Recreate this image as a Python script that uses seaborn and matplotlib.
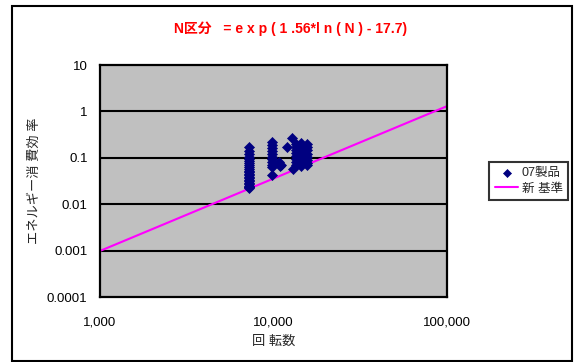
import numpy as np
import pandas as pd
import matplotlib
matplotlib.use("Agg")
import matplotlib.pyplot as plt
from matplotlib.patches import Rectangle
from matplotlib.ticker import FixedLocator, NullLocator
import seaborn as sns

# 07 products: rotation count and energy consumption efficiency
rpm_a = [7200] * 24
eff_a = [0.17, 0.14, 0.12, 0.105, 0.095, 0.085, 0.077, 0.07, 0.064, 0.058,
         0.053, 0.049, 0.045, 0.042, 0.039, 0.036, 0.033, 0.031, 0.029,
         0.027, 0.025, 0.024, 0.023, 0.022]
rpm_b = [9800] * 11
eff_b = [0.22, 0.19, 0.16, 0.14, 0.12, 0.105, 0.092, 0.08, 0.07, 0.062, 0.043]
rpm_c = [10700, 10900, 11100, 11900, 12700, 13000]
eff_c = [0.082, 0.065, 0.07, 0.173, 0.27, 0.058]
rpm_d = [13500] * 8 + [14500] * 9 + [15500] * 8
eff_d = [0.20, 0.17, 0.145, 0.125, 0.108, 0.093, 0.08, 0.07] \
    + [0.21, 0.18, 0.155, 0.13, 0.112, 0.097, 0.085, 0.074, 0.065] \
    + [0.20, 0.17, 0.145, 0.122, 0.105, 0.09, 0.078, 0.07]

rpm = rpm_a + rpm_b + rpm_c + rpm_d
efficiency = eff_a + eff_b + eff_c + eff_d

# New standard: exp(1.56*ln(N) - 17.7)
std_slope = 1.56
std_intercept = -17.7
std_rpm = [1000, 100000]

x_ticks = [1000, 10000, 100000]
x_ticklabels = ["1,000", "10,000", "100,000"]
y_ticks = [0.0001, 0.001, 0.01, 0.1, 1, 10]
y_ticklabels = ["0.0001", "0.001", "0.01", "0.1", "1", "10"]

title_text = "N区分   = e x p ( 1 .56*l n ( N ) - 17.7)"
x_label = "回 転数"
y_label = "エネルギー消 費効 率"
series_label = "07製品"
std_label = "新 基準"

sns.set_style("white")
plt.rcParams["font.family"] = ["Liberation Sans", "Noto Sans CJK JP", "DejaVu Sans"]

points = pd.DataFrame({"rpm": rpm, "eff": efficiency})
std_df = pd.DataFrame({"rpm": std_rpm})
std_df["eff"] = np.exp(std_slope * np.log(std_df["rpm"]) + std_intercept)

fig = plt.figure(figsize=(5.74, 3.62), dpi=100)
ax = fig.add_axes([100 / 574, 1 - 297 / 362, 347 / 574, 232 / 362])
ax.set_facecolor("#C0C0C0")

ax.set_xscale("log")
ax.set_yscale("log")
ax.set_xlim(1000, 100000)
ax.set_ylim(0.0001, 10)

# horizontal gridlines at each decade
for yv in y_ticks[1:-1]:
    ax.axhline(yv, color="black", lw=1.5, zorder=1)

sns.lineplot(data=std_df, x="rpm", y="eff", color="#FF00FF", lw=1.5,
             ax=ax, label=std_label, zorder=2)
sns.scatterplot(data=points, x="rpm", y="eff", marker="D", color="#000080",
                s=26, edgecolor="#000080", linewidth=0.5, ax=ax,
                label=series_label, zorder=3)

ax.xaxis.set_major_locator(FixedLocator(x_ticks))
ax.xaxis.set_minor_locator(NullLocator())
ax.set_xticklabels(x_ticklabels)
ax.yaxis.set_major_locator(FixedLocator(y_ticks))
ax.yaxis.set_minor_locator(NullLocator())
ax.set_yticklabels(y_ticklabels)
ax.tick_params(axis="both", direction="in", length=4, width=1.5,
               labelsize=9.5, colors="black", pad=9)
ax.tick_params(axis="x", pad=14)
for sp in ax.spines.values():
    sp.set_color("black")
    sp.set_linewidth(1.6)

ax.set_xlabel(x_label, fontsize=9.5, labelpad=5)
ax.set_ylabel(y_label, fontsize=9.5, labelpad=4)

fig.text(291 / 574, 1 - 29 / 362, title_text, color="#FF0000",
         fontsize=10, fontweight="bold", ha="center", va="center")

handles, labels = ax.get_legend_handles_labels()
order = [labels.index(series_label), labels.index(std_label)]
leg = ax.legend([handles[i] for i in order], [labels[i] for i in order],
                loc="center left", bbox_to_anchor=(489 / 574, 1 - 181 / 362),
                bbox_transform=fig.transFigure, frameon=True, fancybox=False,
                edgecolor="black", fontsize=9, borderpad=0.45,
                handlelength=1.9, handletextpad=0.25, labelspacing=0.25,
                borderaxespad=0, markerscale=0.8)
leg.get_frame().set_linewidth(1.5)

# chart area border
fig.patches.append(Rectangle((12 / 574, 1 / 362), 560 / 574, 355 / 362,
                             transform=fig.transFigure, fill=False,
                             edgecolor="black", lw=1.5))

fig.savefig("out.png", dpi=100)
